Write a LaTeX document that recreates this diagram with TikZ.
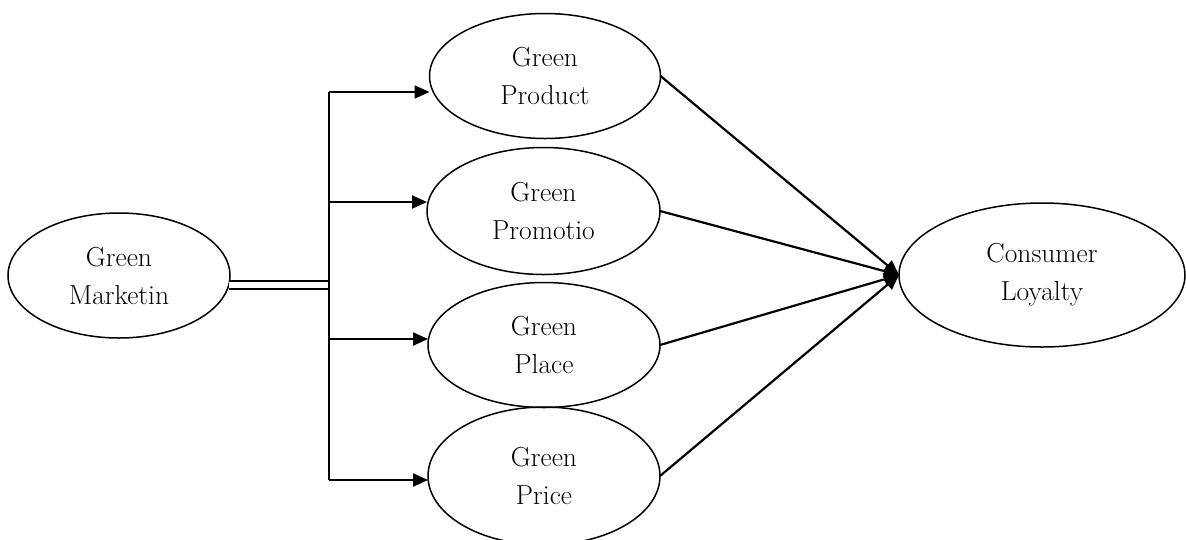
\documentclass[tikz,border=0pt]{standalone}
\usepackage{fontspec}
\usetikzlibrary{shapes.geometric,arrows.meta}
\begin{document}
\begin{tikzpicture}[x=1pt,y=-1pt,
  oval/.style={draw, ellipse, line width=1.5pt, inner sep=0pt, outer sep=0pt, align=center,
    font=\fontsize{27.5}{38}\selectfont},
  arr/.style={line width=2.2pt, -{Triangle[length=15pt,width=13pt]}},
  dbl/.style={line width=1.9pt, double, double distance=5.5pt},
  trunkline/.style={line width=2.2pt}]
\useasboundingbox (0,0) rectangle (1186,539);
% nodes
\node[oval, minimum width=222pt, minimum height=125pt] (mk) at (119,275.5) {Green\\Marketin};
\node[oval, minimum width=231pt, minimum height=125pt] (pd) at (545,76) {Green\\Product};
\node[oval, minimum width=233pt, minimum height=127pt] (pm) at (543.5,211) {Green\\Promotio};
\node[oval, minimum width=232pt, minimum height=125pt] (pl) at (544,345) {Green\\Place};
\node[oval, minimum width=232pt, minimum height=138pt] (pc) at (544,476) {Green\\Price};
\node[oval, minimum width=286pt, minimum height=144pt] (cl) at (1042,275) {Consumer\\Loyalty};
% trunk coordinates
\coordinate (t1) at (329,92);
\coordinate (t2) at (329,202);
\coordinate (t3) at (329,339);
\coordinate (t4) at (329,480);
\coordinate (tj) at (329,285.5);
% double connector
\draw[dbl] (mk.-5) -- (mk.-5 -| tj);
% trunk
\draw[trunkline] (t1) -- (t4);
% branch arrows
\draw[arr] (t1) -- (t1 -| pd.west);
\draw[arr] (t2) -- (t2 -| pm.west);
\draw[arr] (t3) -- (t3 -| pl.west);
\draw[arr] (t4) -- (t4 -| pc.west);
% converging arrows
\draw[arr] (pd.east) -- (cl.west);
\draw[arr] (pm.east) -- (cl.west);
\draw[arr] (pl.east) -- (cl.west);
\draw[arr] (pc.east) -- (cl.west);
\end{tikzpicture}
\end{document}
